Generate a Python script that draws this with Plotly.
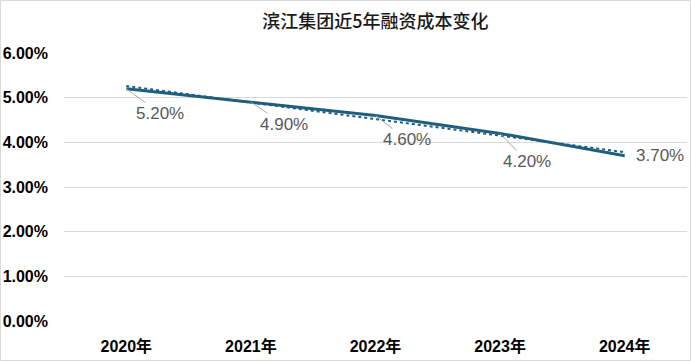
import numpy as np
import plotly.graph_objects as go

years = ["2020年", "2021年", "2022年", "2023年", "2024年"]
cost = [5.20, 4.90, 4.60, 4.20, 3.70]
labels = ["5.20%", "4.90%", "4.60%", "4.20%", "3.70%"]
y_ticks = [0, 1, 2, 3, 4, 5, 6]
y_ticktext = ["0.00%", "1.00%", "2.00%", "3.00%", "4.00%", "5.00%", "6.00%"]

# linear trendline fitted to the data (as in the original spreadsheet)
xi = np.arange(len(cost))
slope, intercept = np.polyfit(xi, cost, 1)
trend = list(slope * xi + intercept)

LINE = "#1F5F7D"
W, H = 691, 361
L, R, T, B = 64, 4, 53, 40

fig = go.Figure()
fig.add_trace(go.Scatter(x=years, y=trend, mode="lines",
                         line=dict(color=LINE, width=2, dash="dot"),
                         hoverinfo="skip", showlegend=False))
fig.add_trace(go.Scatter(x=years, y=cost, mode="lines",
                         line=dict(color=LINE, width=3),
                         showlegend=False))

offsets = [(34, 25), (33, 22), (31, 24), (27, 28), (35, 0)]
for yr, v, lab, (ax, ay) in zip(years, cost, labels, offsets):
    if ay == 0:
        fig.add_annotation(x=yr, y=v, text=lab, showarrow=False, xshift=ax,
                           font=dict(family="Liberation Sans, Arial", size=17, color="#595959"))
    else:
        fig.add_annotation(x=yr, y=v, text=lab, showarrow=True, arrowhead=0,
                           arrowwidth=1, arrowcolor="#A6A6A6", ax=ax, ay=ay,
                           standoff=0,
                           font=dict(family="Liberation Sans, Arial", size=17, color="#595959"))

pw = W - L - R
ph = H - T - B
fig.add_shape(type="rect", xref="paper", yref="paper",
              x0=(0.5 - L) / pw, x1=(W - 0.5 - L) / pw,
              y0=(T + ph - (H - 0.5)) / ph, y1=(T + ph - 0.5) / ph,
              line=dict(color="#D9D9D9", width=1), layer="below")

fig.update_layout(
    width=W, height=H,
    margin=dict(l=L, r=R, t=T, b=B),
    paper_bgcolor="white", plot_bgcolor="white",
    title=dict(text="滨江集团近5年融资成本变化", x=0.5, xref="paper", y=1 - 22 / H,
               yanchor="middle", xanchor="center",
               font=dict(family="Noto Sans CJK SC", size=18, color="#1a1a1a", weight=500)),
    xaxis=dict(showgrid=False, showline=False, zeroline=False,
               range=[-0.5, 4.5],
               tickfont=dict(family="Liberation Sans, Noto Sans CJK SC", size=16, color="#000000", weight="bold"),
               ticklabelstandoff=14),
    yaxis=dict(range=[0, 6], tickvals=y_ticks, ticktext=y_ticktext,
               showgrid=True, gridcolor="#D9D9D9", gridwidth=1,
               zeroline=False, showline=False,
               tickfont=dict(family="Liberation Sans, Arial", size=16, color="#000000", weight="bold"),
               ticklabelstandoff=15),
)

fig.write_html("out.html", config={"displayModeBar": False},
               post_script="document.body.style.margin='0';")
